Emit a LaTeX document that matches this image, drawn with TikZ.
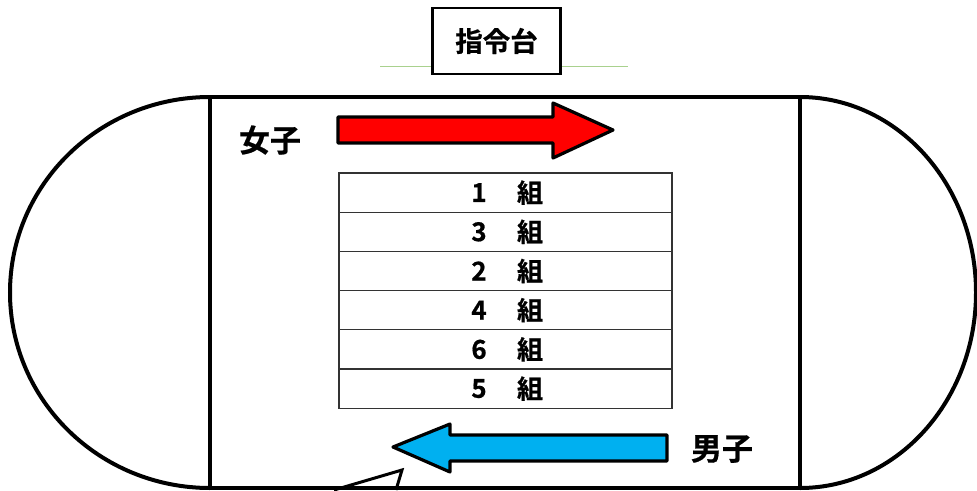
\documentclass[tikz,border=0pt]{standalone}
\usepackage{fontspec}
\newfontfamily\jp[FakeBold=0.6]{Noto Sans CJK JP Bold}
\begin{document}
\begin{tikzpicture}[x=1pt,y=-1pt,
  track/.style={line width=4pt, draw=black},
  arrowshape/.style={line width=3.2pt, draw=black, line join=round},
  jlabel/.style={font=\jp\fontsize{31}{31}\selectfont, inner sep=0pt},
  rowtext/.style={font=\jp\fontsize{26}{26}\selectfont, inner sep=0pt},
  rowbox/.style={draw=black!80, line width=1.2pt, minimum width=333pt, minimum height=39.2pt, inner sep=0pt}]
\useasboundingbox (0,0) rectangle (977,490);
% green line
\draw[draw={rgb,255:red,169;green,209;blue,142}, line width=0.8pt] (380,66) -- (628,66);
% command stand
\node[draw=black, line width=2.8pt, fill=white, minimum width=128pt, minimum height=66pt, inner sep=0pt,
      font=\jp\fontsize{27.5}{27.5}\selectfont] (stand) at (496.5,41) {指令台};
% track
\draw[track] (210,97) -- (800,97);
\draw[track] (210,488) -- (800,488);
\draw[track] (210,97) -- (210,488);
\draw[track] (800,97) -- (800,488);
\draw[track] (210,97) arc[start angle=270, end angle=90, x radius=200, y radius=195.5];
\draw[track] (800,97) arc[start angle=-90, end angle=90, x radius=176, y radius=195.5];
% red arrow
\draw[arrowshape, fill={rgb,255:red,255;green,0;blue,0}]
  (338,117) -- (553,117) -- (553,103) -- (613,130) -- (553,158) -- (553,143) -- (338,143) -- cycle;
\node[jlabel] (girls) at (270,140) {女子};
% blue arrow
\draw[arrowshape, fill={rgb,255:red,0;green,176;blue,240}]
  (667,435) -- (450,435) -- (450,424) -- (393,447) -- (450,472) -- (450,461) -- (667,461) -- cycle;
\node[jlabel] (boys) at (722,449) {男子};
% table
\foreach \i/\n in {0/1,1/3,2/2,3/4,4/6,5/5}{
  \node[rowbox] (row\i) at (505.5,{192.6+39.2*\i}) {};
  \node[rowtext] (num\i) at (479,{192.6+39.2*\i}) {\n};
  \node[rowtext] (kumi\i) at (530,{192.6+39.2*\i}) {組};
}
% callout pointer
\draw[line width=3pt, line join=miter] (334,490) -- (402,470) -- (396,490);
\end{tikzpicture}
\end{document}
